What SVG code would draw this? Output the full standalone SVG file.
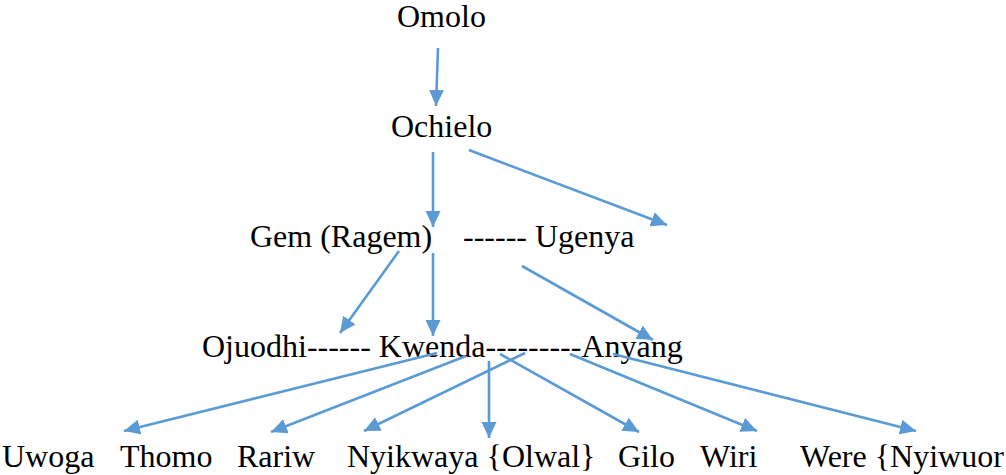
<svg xmlns="http://www.w3.org/2000/svg" width="1006" height="475" viewBox="0 0 1006 475">
<style>
text{font-family:"Liberation Serif","Times New Roman",serif;font-size:32px;fill:#000}
.c line{stroke:#5B9BD5;stroke-width:2.6;fill:none;marker-end:url(#ah)}
</style>
<defs>
<marker id="ah" markerUnits="userSpaceOnUse" markerWidth="18" markerHeight="16" refX="16" refY="7.5" orient="auto" viewBox="0 0 18 16">
<path d="M0,0 L16,7.5 L0,15 z" fill="#5B9BD5"/>
</marker>
</defs>
<rect width="1006" height="475" fill="#fff"/>
<g id="n-omolo"><text x="397" y="27">Omolo</text></g>
<g id="n-ochielo"><text x="391" y="137">Ochielo</text></g>
<g id="n-gem"><text x="250" y="247">Gem (Ragem)</text></g>
<g id="n-ugenya"><text x="463" y="247">------ Ugenya</text></g>
<g id="n-row3"><text x="202" y="357">Ojuodhi------ Kwenda---------Anyang</text></g>
<g id="n-uwoga"><text x="2" y="467">Uwoga</text></g>
<g id="n-thomo"><text x="120" y="467">Thomo</text></g>
<g id="n-rariw"><text x="237" y="467">Rariw</text></g>
<g id="n-nyikwaya"><text x="347" y="467">Nyikwaya {Olwal}</text></g>
<g id="n-gilo"><text x="618" y="467">Gilo</text></g>
<g id="n-wiri"><text x="700" y="467">Wiri</text></g>
<g id="n-were"><text x="800" y="467">Were {Nyiwuor</text></g>
<g id="connectors" class="c">
<line x1="438" y1="48" x2="436" y2="106"/>
<line x1="433" y1="152" x2="433" y2="227"/>
<line x1="469" y1="150" x2="667" y2="225"/>
<line x1="399" y1="251" x2="340" y2="333"/>
<line x1="433" y1="253" x2="433" y2="336"/>
<line x1="522" y1="266" x2="653" y2="340"/>
<line x1="437" y1="353" x2="124" y2="431"/>
<line x1="466" y1="356" x2="271" y2="432"/>
<line x1="525" y1="353" x2="364" y2="431"/>
<line x1="489" y1="361" x2="489" y2="438"/>
<line x1="500" y1="354" x2="639" y2="432"/>
<line x1="570" y1="354" x2="757" y2="431"/>
<line x1="613" y1="354" x2="916" y2="431"/>
</g>
</svg>
